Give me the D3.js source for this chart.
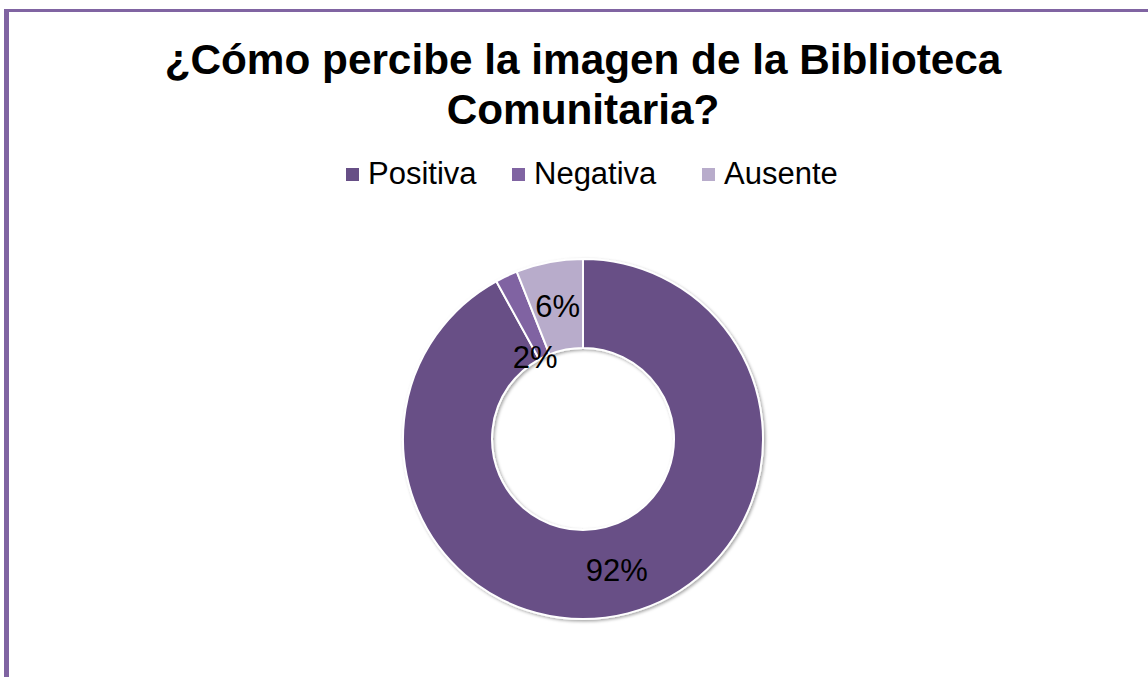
<!DOCTYPE html>
<html>
<head>
<meta charset="utf-8">
<script src="https://cdn.jsdelivr.net/npm/d3@7"></script>
<style>
  html, body { margin: 0; padding: 0; background: #fff; }
  svg { display: block; }
</style>
</head>
<body>
<svg id="chart" width="1148" height="677"></svg>
<script>
const titleLines = ["¿Cómo percibe la imagen de la Biblioteca", "Comunitaria?"];
const categories = ["Positiva", "Negativa", "Ausente"];
const values = [92, 2, 6];
const colors = ["#674F86", "#8064A2", "#B8ACCB"];

const W = 1148, H = 677;
const svg = d3.select("#chart");
const font = "'Liberation Sans', Arial, sans-serif";

// frame border (top and left visible)
svg.append("rect").attr("x", 4).attr("y", 9).attr("width", W).attr("height", 3).attr("fill", "#8064A2");
svg.append("rect").attr("x", 4).attr("y", 9).attr("width", 5).attr("height", H).attr("fill", "#8064A2");

// title
const title = svg.append("text")
  .attr("text-anchor", "middle")
  .attr("font-family", font)
  .attr("font-weight", "bold")
  .attr("font-size", 42.3)
  .attr("fill", "#000");
titleLines.forEach((t, i) => {
  title.append("tspan").attr("x", 583).attr("y", 74 + i * 50).text(t);
});

// legend
const legendX = [346, 512, 702];
const legend = svg.append("g");
categories.forEach((c, i) => {
  const g = legend.append("g").attr("transform", `translate(${legendX[i]},0)`);
  g.append("rect").attr("x", 0).attr("y", 168).attr("width", 13).attr("height", 13).attr("fill", colors[i]);
  g.append("text").attr("x", 22).attr("y", 184)
    .attr("font-family", font).attr("font-size", 31).attr("fill", "#000").text(c);
});

// donut
const cx = 583, cy = 439, outerR = 180, innerR = 91;
const defs = svg.append("defs");
const f = defs.append("filter").attr("id", "sh").attr("x", "-20%").attr("y", "-20%").attr("width", "140%").attr("height", "140%");
f.append("feDropShadow").attr("dx", 1.5).attr("dy", 1.5).attr("stdDeviation", 1.5).attr("flood-color", "#000").attr("flood-opacity", 0.35);

const pie = d3.pie().sort(null).value(d => d);
const arcs = pie(values);
const arc = d3.arc().innerRadius(innerR).outerRadius(outerR);
const total = d3.sum(values);

const g = svg.append("g").attr("transform", `translate(${cx},${cy})`);
g.append("g").attr("filter", "url(#sh)")
  .selectAll("path").data(arcs).enter().append("path")
  .attr("d", arc)
  .attr("fill", (d, i) => colors[i])
  .attr("stroke", "#fff")
  .attr("stroke-width", 2);

const labelArc = d3.arc().innerRadius(innerR).outerRadius(outerR);
g.selectAll("text.lbl").data(arcs).enter().append("text")
  .attr("class", "lbl")
  .attr("transform", d => {
    let [x, y] = labelArc.centroid(d);
    if (d.value / total < 0.03) {
      // small slice: label pushed toward inner edge like the reference
      const a = (d.startAngle + d.endAngle) / 2;
      x = Math.sin(a) * innerR - 9;
      y = -Math.cos(a) * innerR;
    }
    return `translate(${x},${y})`;
  })
  .attr("text-anchor", "middle")
  .attr("dy", "0.35em")
  .attr("font-family", font)
  .attr("font-size", 31)
  .attr("fill", "#000")
  .text(d => Math.round(d.value / total * 100) + "%");
</script>
</body>
</html>
